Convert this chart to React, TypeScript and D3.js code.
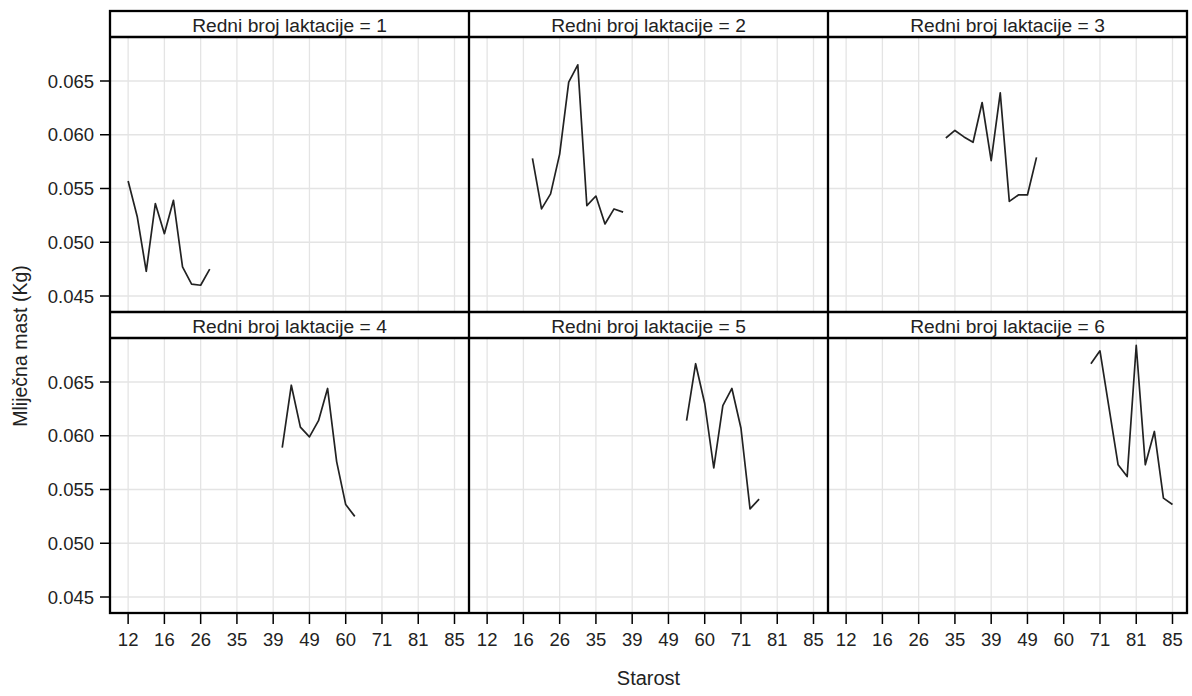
import React from "react";
import * as d3 from "d3";

// Category axis (Starost): tick labels shown on every 4th category
const ageTickLabels = ["12", "16", "26", "35", "39", "49", "60", "71", "81", "85"];
const tickStep = 4;

// Panels (Redni broj laktacije)
const lactations = [1, 2, 3, 4, 5, 6];
// start category index for each lactation series
const startIdx = [0, 5, 11, 17, 22, 27];
// Mliječna mast (Kg) values per lactation
const lact1 = [0.0557, 0.0524, 0.0473, 0.0536, 0.0508, 0.0539, 0.0477, 0.0461, 0.046, 0.0475];
const lact2 = [0.0578, 0.0531, 0.0545, 0.0582, 0.0649, 0.0665, 0.0534, 0.0543, 0.0517, 0.0531, 0.0528];
const lact3 = [0.0597, 0.0604, 0.0598, 0.0593, 0.063, 0.0576, 0.0639, 0.0538, 0.0544, 0.0544, 0.0579];
const lact4 = [0.0589, 0.0647, 0.0608, 0.0599, 0.0614, 0.0644, 0.0576, 0.0536, 0.0525];
const lact5 = [0.0614, 0.0667, 0.063, 0.057, 0.0628, 0.0644, 0.0607, 0.0532, 0.0541];
const lact6 = [0.0667, 0.0679, 0.0626, 0.0573, 0.0562, 0.0684, 0.0573, 0.0604, 0.0542, 0.0536];
const seriesValues = [lact1, lact2, lact3, lact4, lact5, lact6];

const yTicks = [0.045, 0.05, 0.055, 0.06, 0.065];

const W = 1192;
const H = 696;
const left = 110;
const right = 1187;
const top = 11;
const headerH = 26;
const plotH = 275;
const rowH = headerH + plotH;
const colW = (right - left) / 3;
const font = "'Liberation Sans', Arial, sans-serif";
const textColor = "#222";
const gridColor = "#e4e4e4";

export default function App() {
  const x = d3.scaleLinear().domain([-2, 37.6]).range([0, colW]);
  const y = d3.scaleLinear().domain([0.043512, 0.069093]).range([plotH, 0]);
  const line = d3
    .line<[number, number]>()
    .x((d) => x(d[0]))
    .y((d) => y(d[1]));
  const tickIdx = ageTickLabels.map((_, i) => i * tickStep);
  const bottom = top + 2 * rowH;

  return (
    <svg
      width={W}
      height={H}
      style={{ position: "absolute", left: 0, top: 0, background: "#fff" }}
      fontFamily={font}
    >
      <rect width={W} height={H} fill="#fff" />
      {lactations.map((lac, p) => {
        const col = p % 3;
        const row = Math.floor(p / 3);
        const px = left + col * colW;
        const py = top + row * rowH;
        const pts: [number, number][] = seriesValues[p].map((v, i) => [startIdx[p] + i, v]);
        return (
          <g key={lac}>
            <g transform={`translate(${px},${py + headerH})`}>
              {tickIdx.map((t) => (
                <line key={"v" + t} x1={x(t)} x2={x(t)} y1={0} y2={plotH} stroke={gridColor} strokeWidth={1.3} />
              ))}
              {yTicks.map((t) => (
                <line key={"h" + t} x1={0} x2={colW} y1={y(t)} y2={y(t)} stroke={gridColor} strokeWidth={1.3} />
              ))}
              <path d={line(pts) || ""} fill="none" stroke="#222" strokeWidth={1.7} strokeLinejoin="round" />
            </g>
            <text
              x={px + colW / 2}
              y={py + 20.5}
              textAnchor="middle"
              fontSize={19.2}
              fill={textColor}
            >
              {`Redni broj laktacije = ${lac}`}
            </text>
            <line x1={px} x2={px + colW} y1={py + headerH} y2={py + headerH} stroke="#000" strokeWidth={2.3} />
          </g>
        );
      })}
      {/* frame lines */}
      <line x1={left} x2={right} y1={top + rowH} y2={top + rowH} stroke="#000" strokeWidth={2.3} />
      {[1, 2].map((c) => (
        <line key={c} x1={left + c * colW} x2={left + c * colW} y1={top} y2={bottom} stroke="#000" strokeWidth={2.3} />
      ))}
      <rect x={left} y={top} width={right - left} height={bottom - top} fill="none" stroke="#000" strokeWidth={2.3} />

      {/* y axes */}
      {[0, 1].map((row) => {
        const py = top + row * rowH + headerH;
        return (
          <g key={row} transform={`translate(${left},${py})`}>
            {yTicks.map((t) => (
              <g key={t} transform={`translate(0,${y(t)})`}>
                <line x1={-10} x2={0} stroke="#000" strokeWidth={1.5} />
                <text x={-16} dy="0.36em" textAnchor="end" fontSize={18.5} fill={textColor}>
                  {d3.format(".3f")(t)}
                </text>
              </g>
            ))}
          </g>
        );
      })}

      {/* x axes */}
      {[0, 1, 2].map((col) => (
        <g key={col} transform={`translate(${left + col * colW},${bottom})`}>
          {tickIdx.map((t, i) => (
            <g key={t} transform={`translate(${x(t)},0)`}>
              <line y1={0} y2={11} stroke="#000" strokeWidth={1.5} />
              <text y={33} textAnchor="middle" fontSize={18.5} fill={textColor}>
                {ageTickLabels[i]}
              </text>
            </g>
          ))}
        </g>
      ))}

      <text x={(left + right) / 2} y={685} textAnchor="middle" fontSize={20} fill={textColor}>
        Starost
      </text>
      <text
        transform={`translate(27,346) rotate(-90)`}
        textAnchor="middle"
        fontSize={19.5}
        fill={textColor}
      >
        Mliječna mast (Kg)
      </text>
    </svg>
  );
}
